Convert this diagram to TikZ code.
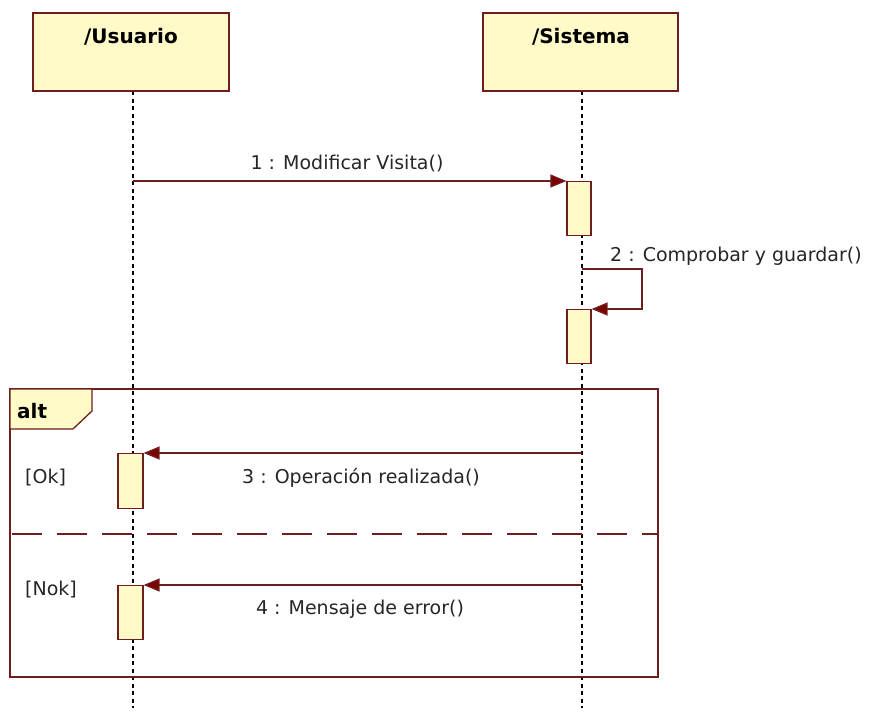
\documentclass[tikz,border=0pt]{standalone}
\usepackage{fontspec}
\setmainfont{DejaVu Sans}
\usetikzlibrary{arrows.meta}
\definecolor{umlfill}{RGB}{255,250,200}
\definecolor{umlline}{RGB}{110,30,30}
\definecolor{umlarrow}{RGB}{125,0,0}
\begin{document}
\begin{tikzpicture}[x=1pt,y=-1pt,
  lifebox/.style={draw=umlline,fill=umlfill,line width=1.3pt},
  act/.style={draw=umlline,fill=umlfill,line width=1.2pt,inner sep=0pt,anchor=north},
  lifeline/.style={black,dash pattern=on 4pt off 3.5pt,line width=1.4pt},
  msg/.style={umlline,line width=1.3pt,-{Triangle[length=16pt,width=13pt,fill=umlarrow]}},
  msgtext/.style={font=\fontsize{19}{22}\selectfont,inner sep=0pt,text=black!85,anchor=base},
  title/.style={font=\fontsize{20}{24}\selectfont\bfseries,inner sep=0pt,anchor=base}]
\useasboundingbox (0,0) rectangle (869,713);
\fill[white] (0,0) rectangle (869,713);

% lifelines
\coordinate (uTop) at (133,91);
\coordinate (uBot) at (133,708);
\coordinate (sTop) at (582,91);
\coordinate (sBot) at (582,708);
\draw[lifeline] (uTop) -- (uBot);
\draw[lifeline] (sTop) -- (sBot);

% participant heads
\draw[lifebox] (33,13) rectangle (229,91);
\node[title] (usuario) at (131,43) {/Usuario};
\draw[lifebox] (483,13) rectangle (678,91);
\node[title] (sistema) at (581,43) {/Sistema};

% alt frame with its two operands
\draw[umlline,line width=1.3pt] (10,389) rectangle (658,677);
\draw[umlline,line width=1.3pt,fill=umlfill] (10,389) -- (92,389) -- (92,411) -- (73,429) -- (10,429) -- cycle;
\node[title,anchor=base west] (alt) at (17,418) {alt};
\draw[umlline,line width=1.3pt,dash pattern=on 30pt off 15pt,dash phase=-2pt] (10,534) -- (658,534);
\node[msgtext,anchor=base west] (ok) at (25,483) {[Ok]};
\node[msgtext,anchor=base west] (nok) at (25,595) {[Nok]};

% activations
\node[act,minimum width=24pt,minimum height=54pt] (a1) at (579,181) {};
\node[act,minimum width=24pt,minimum height=54pt] (a2) at (579,309) {};
\node[act,minimum width=25pt,minimum height=55pt] (a3) at (130.5,453) {};
\node[act,minimum width=25pt,minimum height=54pt] (a4) at (130.5,585) {};

% messages
\coordinate (m1s) at (133,181);
\draw[msg] (m1s) -- (a1.north west);
\node[msgtext] (l1) at (347,169) {1 : Modificar Visita()};

\coordinate (m2s) at (582,269);
\coordinate (m2a) at (642,269);
\coordinate (m2b) at (642,309);
\draw[msg] (m2s) -- (m2a) -- (m2b) -- (a2.north east);
\node[msgtext,anchor=base west] (l2) at (610,261) {2 : Comprobar y guardar()};

\coordinate (m3s) at (582,453);
\draw[msg] (m3s) -- (a3.north east);
\node[msgtext] (l3) at (361,483) {3 : Operación realizada()};

\coordinate (m4s) at (582,585);
\draw[msg] (m4s) -- (a4.north east);
\node[msgtext] (l4) at (360,614) {4 : Mensaje de error()};
\end{tikzpicture}
\end{document}
